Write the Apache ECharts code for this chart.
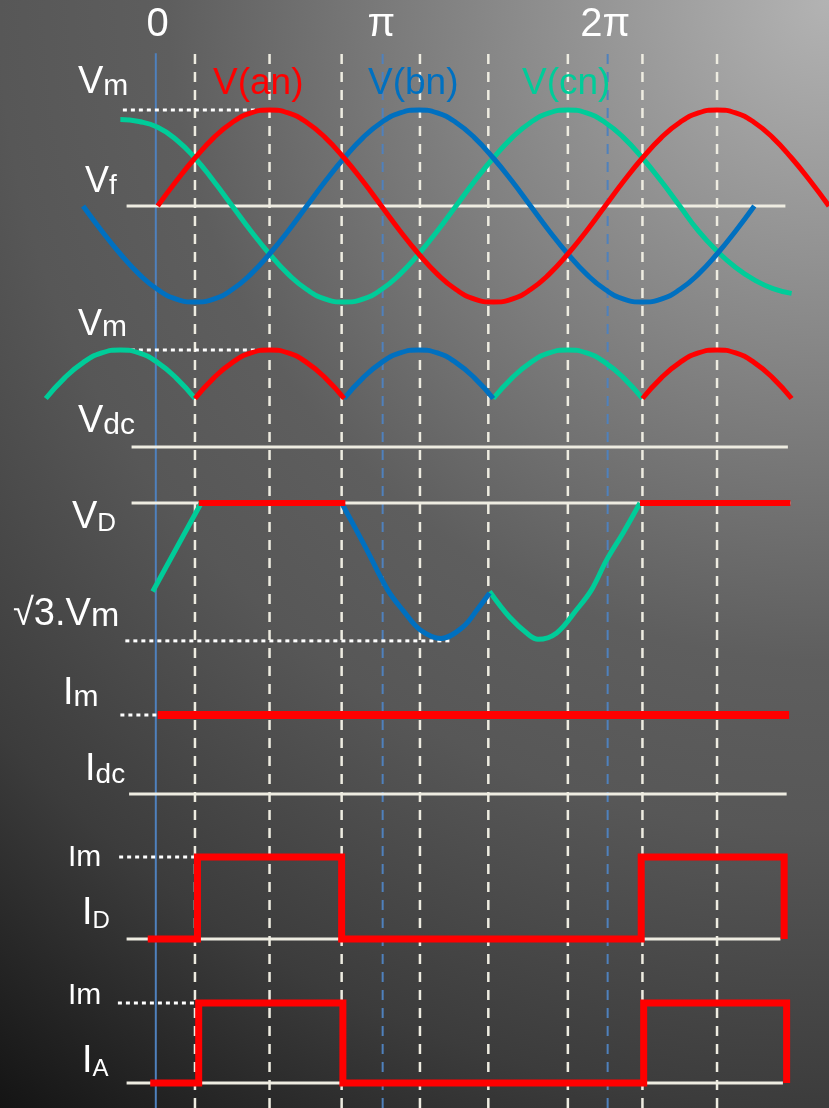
<!DOCTYPE html>
<html>
<head>
<meta charset="utf-8">
<script src="https://cdn.jsdelivr.net/npm/echarts@6/dist/echarts.min.js"></script>
<style>
html,body{margin:0;padding:0;background:#333;}
#chart{width:829px;height:1108px;}
</style>
</head>
<body>
<div id="chart"></div>
<script>
// ---------- DATA (angles in electrical degrees, values in per-unit) ----------
const N = null;
const angles = [-90,-75,-60,-45,-30,-15,0,15,30,45,60,75,90,105,120,135,150,165,180,195,210,225,240,255,270,285,300,315,330,345,360,375,390,405,420,435,450,465,480,495,510,525,540];

// phase voltages (per-unit of Vm)
const vAn = [N,N,N,N,N,N,0,0.26,0.5,0.71,0.87,0.97,1,0.97,0.87,0.71,0.5,0.26,0,-0.26,-0.5,-0.71,-0.87,-0.97,-1,-0.97,-0.87,-0.71,-0.5,-0.26,0,0.26,0.5,0.71,0.87,0.97,1,0.97,0.87,0.71,0.5,0.26,0];
const vBn = [N,N,0,-0.26,-0.5,-0.71,-0.87,-0.97,-1,-0.97,-0.87,-0.71,-0.5,-0.26,0,0.26,0.5,0.71,0.87,0.97,1,0.97,0.87,0.71,0.5,0.26,0,-0.26,-0.5,-0.71,-0.87,-0.97,-1,-0.97,-0.87,-0.71,-0.5,-0.26,0,N,N,N,N];
const vCn = [N,N,N,N,0.9,0.88,0.82,0.69,0.5,0.26,0,-0.26,-0.5,-0.71,-0.87,-0.97,-1,-0.97,-0.87,-0.71,-0.5,-0.26,0,0.26,0.5,0.71,0.87,0.97,1,0.97,0.87,0.71,0.5,0.26,0,-0.26,-0.47,-0.64,-0.77,-0.86,-0.91,N,N];

// rectified output voltage segments
const vdcGreen = [0.5,0.71,0.87,0.97,1,0.97,0.87,0.71,0.5,N,N,N,N,N,N,N,N,N,N,N,N,N,N,N,0.5,0.71,0.87,0.97,1,0.97,0.87,0.71,0.5,N,N,N,N,N,N,N,N,N,N];
const vdcRed   = [N,N,N,N,N,N,N,N,0.5,0.71,0.87,0.97,1,0.97,0.87,0.71,0.5,N,N,N,N,N,N,N,N,N,N,N,N,N,N,N,0.5,0.71,0.87,0.97,1,0.97,0.87,0.71,0.5,N,N];
const vdcBlue  = [N,N,N,N,N,N,N,N,N,N,N,N,N,N,N,N,0.5,0.71,0.87,0.97,1,0.97,0.87,0.71,0.5,N,N,N,N,N,N,N,N,N,N,N,N,N,N,N,N,N,N];

// diode voltage segments (read point by point)
const vdGreenAngles = [-4, 35, 150, 267, 283, 299, 306, 321, 337, 349, 361, 375, 388];
const vdGreenValues = [-1.11, 0, N, -1.11, -1.43, -1.66, -1.71, -1.63, -1.34, -1.09, -0.72, -0.36, 0];
const vdBlueAngles  = [148, 167, 185, 198, 211, 228, 246, 257, 267];
const vdBlueValues  = [0, -0.55, -1.09, -1.36, -1.59, -1.70, -1.55, -1.34, -1.13];
const vdRedAngles   = [33, 151, 250, 388, 509];
const vdRedValues   = [0, 0, N, 0, 0];

// currents (per-unit of Im)
const idcAngles = [0, 508];
const idcValues = [1, 1];
const idAngles  = [-8, 32, 32, 148, 148, 389, 389, 504, 504];
const idValues  = [0, 0, 1, 1, 0, 0, 1, 1, 0];
const iaAngles  = [-6, 33, 33, 149, 149, 391, 391, 506, 506];
const iaValues  = [0, 0, 1, 1, 0, 0, 1, 1, 0];

// panel base lines and reference (dotted) levels, panels 1..6
const baseStart = [-25, -21, -21, -23, -25, -25];
const baseEnd   = [505, 507, 509, 506, 501, 503];
const baseLevel = [0, 0, 0, 0, 0, 0];
const refStart  = [-28, -28, -26, -30, -31, -32];
const refEnd    = [90, 97, 235, 0, 30, 34];
const refLevel  = [1, 1, -1.73, 1, 1, 1];

// vertical guide lines
const guideAngles = [30, 90, 148, 211, 266, 330, 390, 450];
const blueDashAngles = [181, 362];
const zeroAngles = [-1.5];

// top tick labels
const tickAngles = [0, 180, 360];
const tickLabels = ['0', 'π', '2π'];

// ---------- CHART ----------
const FONT = '"Liberation Sans", Arial, sans-serif';
const RED = '#ff0000', BLUE = '#0070c0', GREEN = '#00cc99';
const AXISC = '#eeece1', GUIDEBLUE = '#4f81bd';

const pairs = (xs, ys) => xs.map((x, i) => [x, ys[i]]);

const L = 45.8, R = 0.1;
const grids = [
  {left: L, right: R, top: 50, bottom: 0},        // 0 overlay (guides + ticks)
  {left: L, right: R, top: 90.8, height: 230.4},  // 1 phase voltages
  {left: L, right: R, top: 330.6, height: 116.4}, // 2 output voltage
  {left: L, right: R, top: 479.1, height: 183.3}, // 3 diode voltage
  {left: L, right: R, top: 715, height: 79},      // 4 Idc
  {left: L, right: R, top: 857, height: 82},      // 5 ID
  {left: L, right: R, top: 1003, height: 80}      // 6 IA
];
const yRanges = [[0,1],[-1.2,1.2],[0,1.2],[-2,0.3],[0,1],[0,1],[0,1]];

const xAxes = grids.map((g, i) => {
  const ax = {gridIndex: i, type: 'value', min: -90, max: 540, show: false};
  if (i === 0) {
    Object.assign(ax, {
      show: true, position: 'top',
      axisLine: {show: false}, axisTick: {show: false}, splitLine: {show: false},
      axisLabel: {
        customValues: tickAngles,
        formatter: v => { const k = tickAngles.indexOf(v); return k >= 0 ? tickLabels[k] : ''; },
        color: '#ffffff', fontSize: 40, fontFamily: FONT, margin: 5
      }
    });
  }
  return ax;
});
const yAxes = grids.map((g, i) => ({gridIndex: i, type: 'value', min: yRanges[i][0], max: yRanges[i][1], show: false}));

function line(grid, data, color, width, extra) {
  return Object.assign({
    type: 'line', xAxisIndex: grid, yAxisIndex: grid, data: data,
    symbol: 'none', clip: false, silent: true, animation: false, z: 4,
    lineStyle: {color: color, width: width, cap: 'butt'},
    itemStyle: {color: color}
  }, extra || {});
}

const series = [];
// vertical guides
guideAngles.forEach(a => series.push(line(0, [[a, 0], [a, 1]], AXISC, 2.5, {z: 1, lineStyle: {color: AXISC, width: 2.5, type: [10, 8]}})));
blueDashAngles.forEach(a => series.push(line(0, [[a, 0], [a, 1]], GUIDEBLUE, 2, {z: 1, lineStyle: {color: GUIDEBLUE, width: 2, type: [10, 8]}})));
zeroAngles.forEach(a => series.push(line(0, [[a, 0], [a, 0.997]], GUIDEBLUE, 2, {z: 1})));

// base lines and dotted reference lines
for (let p = 0; p < 6; p++) {
  series.push(line(p + 1, [[baseStart[p], baseLevel[p]], [baseEnd[p], baseLevel[p]]], AXISC, 3, {z: 2}));
  series.push(line(p + 1, [[refStart[p], refLevel[p]], [refEnd[p], refLevel[p]]], '#ffffff', 3, {z: 2, lineStyle: {color: '#ffffff', width: 3, type: [4, 4]}}));
}

// phase voltages
series.push(line(1, pairs(angles, vCn), GREEN, 5, {smooth: true, name: 'V(cn)'}));
series.push(line(1, pairs(angles, vBn), BLUE, 5, {smooth: true, name: 'V(bn)'}));
series.push(line(1, pairs(angles, vAn), RED, 5, {smooth: true, name: 'V(an)'}));

// output voltage
series.push(line(2, pairs(angles, vdcGreen), GREEN, 5, {smooth: true}));
series.push(line(2, pairs(angles, vdcBlue), BLUE, 5, {smooth: true}));
series.push(line(2, pairs(angles, vdcRed), RED, 5, {smooth: true}));

// diode voltage
series.push(line(3, pairs(vdGreenAngles, vdGreenValues), GREEN, 5, {smooth: 0.35}));
series.push(line(3, pairs(vdBlueAngles, vdBlueValues), BLUE, 5, {smooth: 0.35}));
series.push(line(3, pairs(vdRedAngles, vdRedValues), RED, 6));

// currents
series.push(line(4, pairs(idcAngles, idcValues), RED, 8));
series.push(line(5, pairs(idAngles, idValues), RED, 7, {lineStyle: {color: RED, width: 7, join: 'miter'}}));
series.push(line(6, pairs(iaAngles, iaValues), RED, 7, {lineStyle: {color: RED, width: 7, join: 'miter'}}));

// ---------- labels ----------
function tok(size, color) {
  return {fontSize: size, fontFamily: FONT, fill: color || '#ffffff', verticalAlign: 'bottom'};
}
function label(x, y, text, rich, color) {
  return {
    type: 'text', x: x, y: y, z: 100, silent: true,
    style: {text: text, rich: rich, fill: color || '#ffffff', fontFamily: FONT,
            align: 'left', verticalAlign: 'middle', textAlign: 'left', textVerticalAlign: 'middle'}
  };
}
const big = (s1, s2) => ({a: tok(s1), b: tok(s2)});

const bg = new echarts.graphic.RadialGradient(829, 0, 1383, [
  {offset: 0, color: '#b3b3b3'},
  {offset: 0.478, color: '#5e5e5e'},
  {offset: 0.6, color: '#575757'},
  {offset: 0.8, color: '#3c3c3c'},
  {offset: 1, color: '#141414'}
], true);

const graphic = [
  {type: 'rect', z: -100, silent: true, shape: {x: 0, y: 0, width: 829, height: 1108}, style: {fill: bg}},
  label(78, 83, '{a|V}{b|m}', big(38, 30)),
  label(85, 182, '{a|V}{b|f}', big(36, 28)),
  label(78, 325, '{a|V}{b|m}', big(36, 30)),
  label(78, 422, '{a|V}{b|dc}', big(38, 30)),
  label(72, 518, '{a|V}{b|D}', big(38, 26)),
  label(13, 615, '{a|√3.V}{b|m}', big(38, 34)),
  label(63, 694, '{a|I}{b|m}', big(38, 30)),
  label(85, 770, '{a|I}{b|dc}', big(38, 28)),
  label(68, 858, '{a|I}{b|m}', big(30, 30)),
  label(82, 914, '{a|I}{b|D}', big(38, 24)),
  label(68, 996, '{a|I}{b|m}', big(30, 30)),
  label(82, 1062, '{a|I}{b|A}', big(38, 24)),
  label(213, 84, '{a|V(an)}', {a: tok(37, RED)}, RED),
  label(368, 84, '{a|V(bn)}', {a: tok(37, BLUE)}, BLUE),
  label(522, 84, '{a|V(cn)}', {a: tok(37, GREEN)}, GREEN)
];

const chart = echarts.init(document.getElementById('chart'), null, {renderer: 'canvas'});
chart.setOption({
  animation: false,
  backgroundColor: 'transparent',
  grid: grids,
  xAxis: xAxes,
  yAxis: yAxes,
  series: series,
  graphic: graphic
});
</script>
</body>
</html>
